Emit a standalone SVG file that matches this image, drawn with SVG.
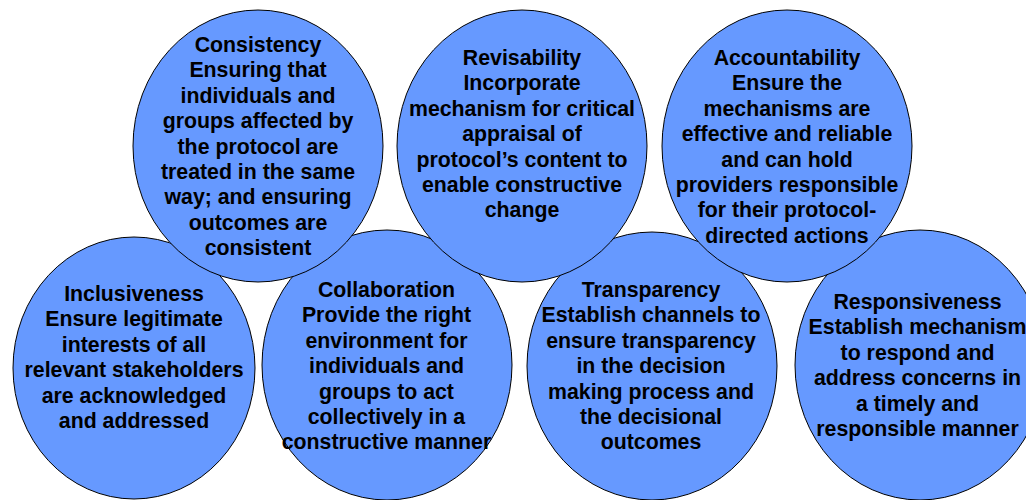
<svg xmlns="http://www.w3.org/2000/svg" width="1026" height="500" viewBox="0 0 1026 500">
<style>
.c{fill:#6699FF;stroke:#000;stroke-width:1}
text{font-family:"Liberation Sans",Arial,sans-serif;font-weight:bold;font-size:21.3px;fill:#000;text-anchor:middle}
</style>
<rect width="1026" height="500" fill="#fff"/>
<g id="inclusiveness">
<ellipse class="c" cx="134" cy="368" rx="121" ry="131"/>
<text x="134" y="301">Inclusiveness</text>
<text x="134" y="326.4">Ensure legitimate</text>
<text x="134" y="351.8">interests of all</text>
<text x="134" y="377.2">relevant stakeholders</text>
<text x="134" y="402.6">are acknowledged</text>
<text x="134" y="428">and addressed</text>
</g>
<g id="collaboration">
<ellipse class="c" cx="387" cy="365" rx="125" ry="135"/>
<text x="386.5" y="297">Collaboration</text>
<text x="386.5" y="322.4">Provide the right</text>
<text x="386.5" y="347.8">environment for</text>
<text x="386.5" y="373.2">individuals and</text>
<text x="386.5" y="398.6">groups to act</text>
<text x="386.5" y="424">collectively in a</text>
<text x="386.5" y="449.4">constructive manner</text>
</g>
<g id="transparency">
<ellipse class="c" cx="652" cy="366" rx="125" ry="134"/>
<text x="651" y="297">Transparency</text>
<text x="651" y="322.4">Establish channels to</text>
<text x="651" y="347.8">ensure transparency</text>
<text x="651" y="373.2">in the decision</text>
<text x="651" y="398.6">making process and</text>
<text x="651" y="424">the decisional</text>
<text x="651" y="449.4">outcomes</text>
</g>
<g id="responsiveness">
<ellipse class="c" cx="920" cy="365" rx="125" ry="135"/>
<text x="917.5" y="309">Responsiveness</text>
<text x="917.5" y="334.4">Establish mechanism</text>
<text x="917.5" y="359.8">to respond and</text>
<text x="917.5" y="385.2">address concerns in</text>
<text x="917.5" y="410.6">a timely and</text>
<text x="917.5" y="436">responsible manner</text>
</g>
<g id="consistency">
<ellipse class="c" cx="258" cy="146" rx="125" ry="136"/>
<text x="258" y="52">Consistency</text>
<text x="258" y="77.4">Ensuring that</text>
<text x="258" y="102.8">individuals and</text>
<text x="258" y="128.2">groups affected by</text>
<text x="258" y="153.6">the protocol are</text>
<text x="258" y="179">treated in the same</text>
<text x="258" y="204.4">way; and ensuring</text>
<text x="258" y="229.8">outcomes are</text>
<text x="258" y="255.2">consistent</text>
</g>
<g id="revisability">
<ellipse class="c" cx="522" cy="146" rx="125" ry="136"/>
<text x="522" y="65">Revisability</text>
<text x="522" y="90.4">Incorporate</text>
<text x="522" y="115.8">mechanism for critical</text>
<text x="522" y="141.2">appraisal of</text>
<text x="522" y="166.6">protocol’s content to</text>
<text x="522" y="192">enable constructive</text>
<text x="522" y="217.4">change</text>
</g>
<g id="accountability">
<ellipse class="c" cx="787" cy="146" rx="125" ry="136"/>
<text x="787" y="65">Accountability</text>
<text x="787" y="90.4">Ensure the</text>
<text x="787" y="115.8">mechanisms are</text>
<text x="787" y="141.2">effective and reliable</text>
<text x="787" y="166.6">and can hold</text>
<text x="787" y="192">providers responsible</text>
<text x="787" y="217.4">for their protocol-</text>
<text x="787" y="242.8">directed actions</text>
</g>
<g id="connectors"/>
</svg>
